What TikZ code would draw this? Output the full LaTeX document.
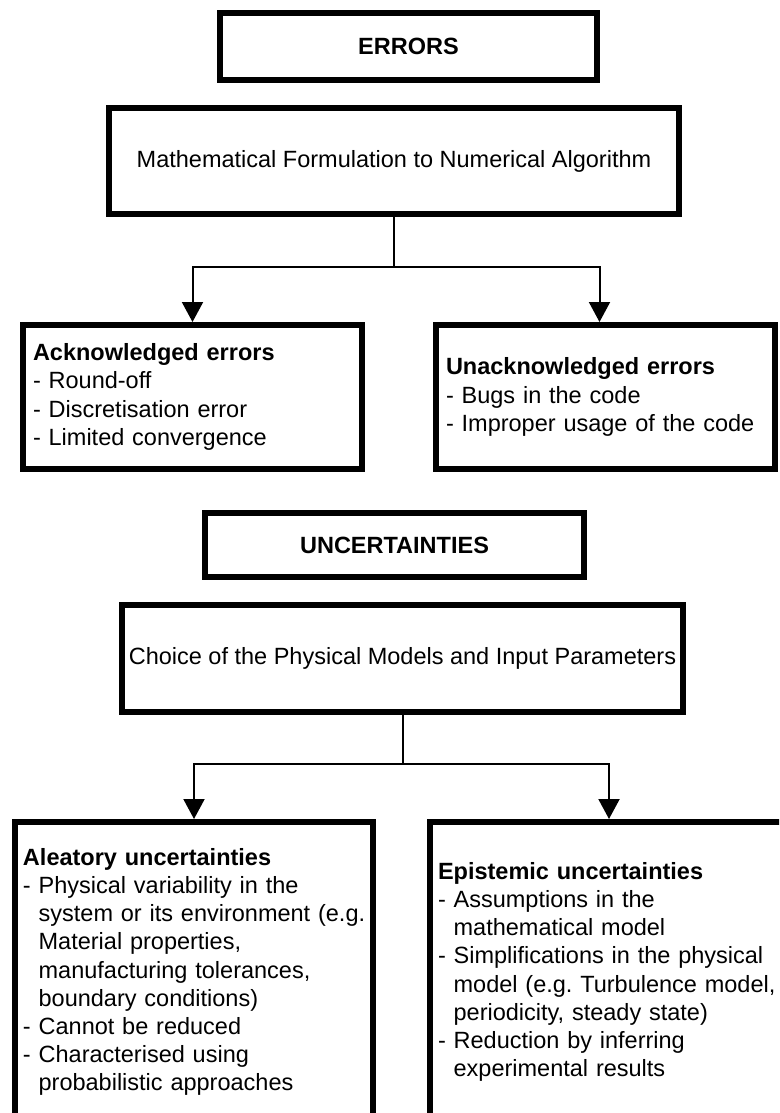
\documentclass[tikz,border=0pt]{standalone}
\usepackage{fontspec}
\setmainfont{Liberation Sans}
\usetikzlibrary{arrows.meta,positioning}
\newcommand{\boxfont}{\fontsize{23.5pt}{28.2pt}\selectfont}
\newcommand{\contd}{\hphantom{-\ }}

\begin{document}
\begin{tikzpicture}[
  x=1pt, y=1pt,
  font=\boxfont,
  titlebox/.style={draw, line width=6pt, minimum width=377pt, minimum height=67pt, font=\boxfont\bfseries},
  stepbox/.style={draw, line width=6pt, minimum width=570pt, minimum height=106pt},
  listbox/.style={draw, line width=6pt, text width=319pt, inner xsep=10pt, align=left, minimum height=144pt},
  widelist/.style={listbox, text width=342pt, inner xsep=8pt, minimum height=300pt},
  link/.style={line width=2pt},
  arrow/.style={-{Triangle[length=20pt,width=21pt]}, line width=2pt}
]
\useasboundingbox (0,0) rectangle (779,-1113);
\clip (0,0) rectangle (779,-1113);

% errors
\node[titlebox] (errors) at (408.5,-46.5) {ERRORS};
\node[stepbox, below=22pt of errors, xshift=-14.5pt] (formulation) {Mathematical Formulation to Numerical Algorithm};

\node[listbox] (acknowledged) at (192.5,-397)
  {\textbf{Acknowledged errors}\\
   - Round-off\\
   - Discretisation error\\
   - Limited convergence};
\node[listbox, right=68pt of acknowledged] (unacknowledged)
  {\textbf{Unacknowledged errors}\\
   - Bugs in the code\\
   - Improper usage of the code};

\draw[link] (formulation.south) -- ++(0,-50) coordinate (fork1);
\draw[arrow] (fork1) -| (acknowledged.north);
\draw[arrow] (fork1) -| ([xshift=-6pt]unacknowledged.north);

% uncertainties
\node[titlebox, minimum width=379pt, minimum height=64pt] (uncertainties) at (394.5,-545) {UNCERTAINTIES};
\node[stepbox, below=22pt of uncertainties, xshift=8pt, minimum width=561pt, minimum height=107pt] (choice) {Choice of the Physical Models and Input Parameters};

\node[widelist, anchor=north] (aleatory) at (194,-819)
  {\textbf{Aleatory uncertainties}\\
   - Physical variability in the\\
   \contd\mbox{system or its environment (e.g.}\\
   \contd Material properties,\\
   \contd manufacturing tolerances,\\
   \contd boundary conditions)\\
   - Cannot be reduced\\
   - Characterised using\\
   \contd probabilistic approaches};
\node[widelist, right=51pt of aleatory] (epistemic)
  {\textbf{Epistemic uncertainties}\\
   - Assumptions in the\\
   \contd mathematical model\\
   - Simplifications in the physical\\
   \contd model (e.g.\ Turbulence model,\\
   \contd periodicity, steady state)\\
   - Reduction by inferring\\
   \contd experimental results};

\draw[link] (choice.south) -- ++(0,-49) coordinate (fork2);
\draw[arrow] (fork2) -| (aleatory.north);
\draw[arrow] (fork2) -| (epistemic.north);

\end{tikzpicture}
\end{document}
